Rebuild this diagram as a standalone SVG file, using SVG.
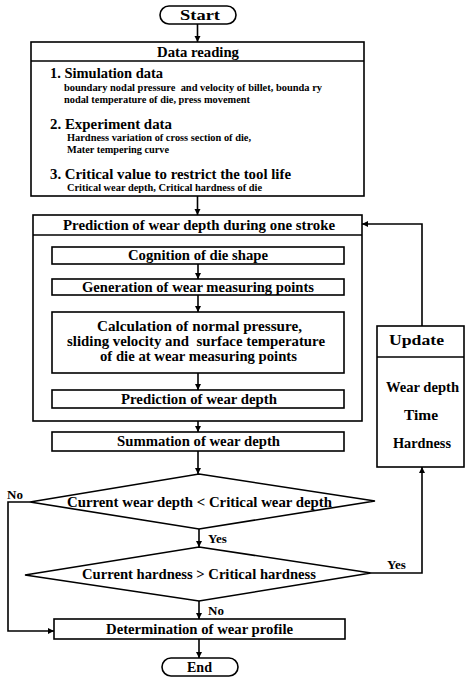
<svg xmlns="http://www.w3.org/2000/svg" width="465" height="677" viewBox="0 0 465 677">
<style>
  .box { fill: #fff; stroke: #000; stroke-width: 1.6; }
  .ln { fill: none; stroke: #000; stroke-width: 1.6; }
  text { font-family: "Liberation Serif", "Times New Roman", serif; font-weight: bold; fill: #000; }
  .t { font-size: 14.5px; text-anchor: middle; }
  .h { font-size: 14.5px; }
  .s { font-size: 10px; }
  .lbl { font-size: 13px; }
</style>
<defs>
  <marker id="arr" viewBox="0 0 10 10" refX="10" refY="5" markerUnits="userSpaceOnUse" markerWidth="6" markerHeight="8" orient="auto">
    <path d="M0,0 L10,5 L0,10 Z" fill="#000"/>
  </marker>
</defs>

<g id="start">
  <rect class="box" x="160" y="6" width="76" height="18" rx="9" ry="9"/>
  <text class="t" x="200" y="20" textLength="40" lengthAdjust="spacingAndGlyphs">Start</text>
</g>

<g id="data-reading">
  <rect class="box" x="31" y="42" width="333" height="154"/>
  <line class="ln" x1="31" y1="61" x2="364" y2="61"/>
  <text class="t" x="198" y="57" textLength="82" lengthAdjust="spacingAndGlyphs">Data reading</text>
  <text class="h" x="50" y="78" textLength="113" lengthAdjust="spacingAndGlyphs">1. Simulation data</text>
  <text class="s" x="64" y="91" textLength="258" lengthAdjust="spacingAndGlyphs" xml:space="preserve">boundary nodal pressure  and velocity of billet, bounda ry</text>
  <text class="s" x="64" y="103" textLength="186" lengthAdjust="spacingAndGlyphs">nodal temperature of die, press movement</text>
  <text class="h" x="50" y="128.5" textLength="122" lengthAdjust="spacingAndGlyphs">2. Experiment data</text>
  <text class="s" x="67" y="141" textLength="184" lengthAdjust="spacingAndGlyphs">Hardness variation of cross section of die,</text>
  <text class="s" x="67" y="153" textLength="102" lengthAdjust="spacingAndGlyphs">Mater tempering curve</text>
  <text class="h" x="50" y="178.5" textLength="241" lengthAdjust="spacingAndGlyphs">3. Critical value to restrict the tool life</text>
  <text class="s" x="67" y="191" textLength="195" lengthAdjust="spacingAndGlyphs">Critical wear depth, Critical hardness of die</text>
</g>

<g id="prediction-stroke">
  <rect class="box" x="33" y="215" width="329" height="206"/>
  <line class="ln" x1="33" y1="235" x2="362" y2="235"/>
  <text class="t" x="199" y="230" textLength="272" lengthAdjust="spacingAndGlyphs">Prediction of wear depth during one stroke</text>
</g>

<g id="cognition">
  <rect class="box" x="52" y="247" width="292" height="17"/>
  <text class="t" x="198" y="260" textLength="140" lengthAdjust="spacingAndGlyphs">Cognition of die shape</text>
</g>

<g id="generation">
  <rect class="box" x="52" y="279" width="292" height="16"/>
  <text class="t" x="198" y="292" textLength="232" lengthAdjust="spacingAndGlyphs">Generation of wear measuring points</text>
</g>

<g id="calculation">
  <rect class="box" x="52" y="312" width="292" height="61"/>
  <text class="t" x="199.5" y="331" textLength="205" lengthAdjust="spacingAndGlyphs">Calculation of normal pressure,</text>
  <text class="t" x="196" y="346" textLength="258" lengthAdjust="spacingAndGlyphs" xml:space="preserve">sliding velocity and  surface temperature</text>
  <text class="t" x="198.5" y="361" textLength="197" lengthAdjust="spacingAndGlyphs">of die at wear measuring points</text>
</g>

<g id="prediction-depth">
  <rect class="box" x="52" y="390" width="292" height="18"/>
  <text class="t" x="199" y="404" textLength="156" lengthAdjust="spacingAndGlyphs">Prediction of wear depth</text>
</g>

<g id="summation">
  <rect class="box" x="52" y="432" width="292" height="19"/>
  <text class="t" x="198.5" y="446" textLength="163" lengthAdjust="spacingAndGlyphs">Summation of wear depth</text>
</g>

<g id="decision-depth">
  <polygon class="box" points="199,474 375,501 199,529 30,502"/>
  <text class="t" x="199.5" y="507" textLength="265" lengthAdjust="spacingAndGlyphs">Current wear depth &lt; Critical wear depth</text>
</g>

<g id="decision-hardness">
  <polygon class="box" points="199,547 371,573 199,601 25,575"/>
  <text class="t" x="199" y="579" textLength="234" lengthAdjust="spacingAndGlyphs">Current hardness &gt; Critical hardness</text>
</g>

<g id="determination">
  <rect class="box" x="54" y="619" width="291" height="20"/>
  <text class="t" x="199.5" y="634" textLength="187" lengthAdjust="spacingAndGlyphs">Determination of wear profile</text>
</g>

<g id="end">
  <rect class="box" x="162" y="658" width="76" height="18" rx="9" ry="9"/>
  <text class="t" x="199.5" y="672" textLength="25" lengthAdjust="spacingAndGlyphs">End</text>
</g>

<g id="update">
  <rect class="box" x="377" y="326" width="87" height="141"/>
  <line class="ln" x1="377" y1="357" x2="464" y2="357"/>
  <text class="t" x="416.5" y="345" textLength="55" lengthAdjust="spacingAndGlyphs">Update</text>
  <text class="t" x="422.5" y="392" textLength="73" lengthAdjust="spacingAndGlyphs">Wear depth</text>
  <text class="t" x="421" y="420" textLength="34" lengthAdjust="spacingAndGlyphs">Time</text>
  <text class="t" x="422" y="448" textLength="58" lengthAdjust="spacingAndGlyphs">Hardness</text>
</g>

<g id="connectors">
  <path class="ln" d="M197.5,24 V42" marker-end="url(#arr)"/>
  <path class="ln" d="M197.5,196 V215" marker-end="url(#arr)"/>
  <path class="ln" d="M198,264 V279" marker-end="url(#arr)"/>
  <path class="ln" d="M198,295 V312" marker-end="url(#arr)"/>
  <path class="ln" d="M198,373 V390" marker-end="url(#arr)"/>
  <path class="ln" d="M198,421 V432" marker-end="url(#arr)"/>
  <path class="ln" d="M198,451 V474" marker-end="url(#arr)"/>
  <path class="ln" d="M199,529 V547" marker-end="url(#arr)"/>
  <path class="ln" d="M199,601 V619" marker-end="url(#arr)"/>
  <path class="ln" d="M199,639 V658" marker-end="url(#arr)"/>
  <path class="ln" d="M30,502 H8 V631 H54" marker-end="url(#arr)"/>
  <path class="ln" d="M371,573 H422 V467" marker-end="url(#arr)"/>
  <path class="ln" d="M422,326 V224 H362" marker-end="url(#arr)"/>
  <text class="lbl" x="7" y="499">No</text>
  <text class="lbl" x="208" y="543">Yes</text>
  <text class="lbl" x="208" y="615">No</text>
  <text class="lbl" x="387" y="569">Yes</text>
</g>
</svg>
